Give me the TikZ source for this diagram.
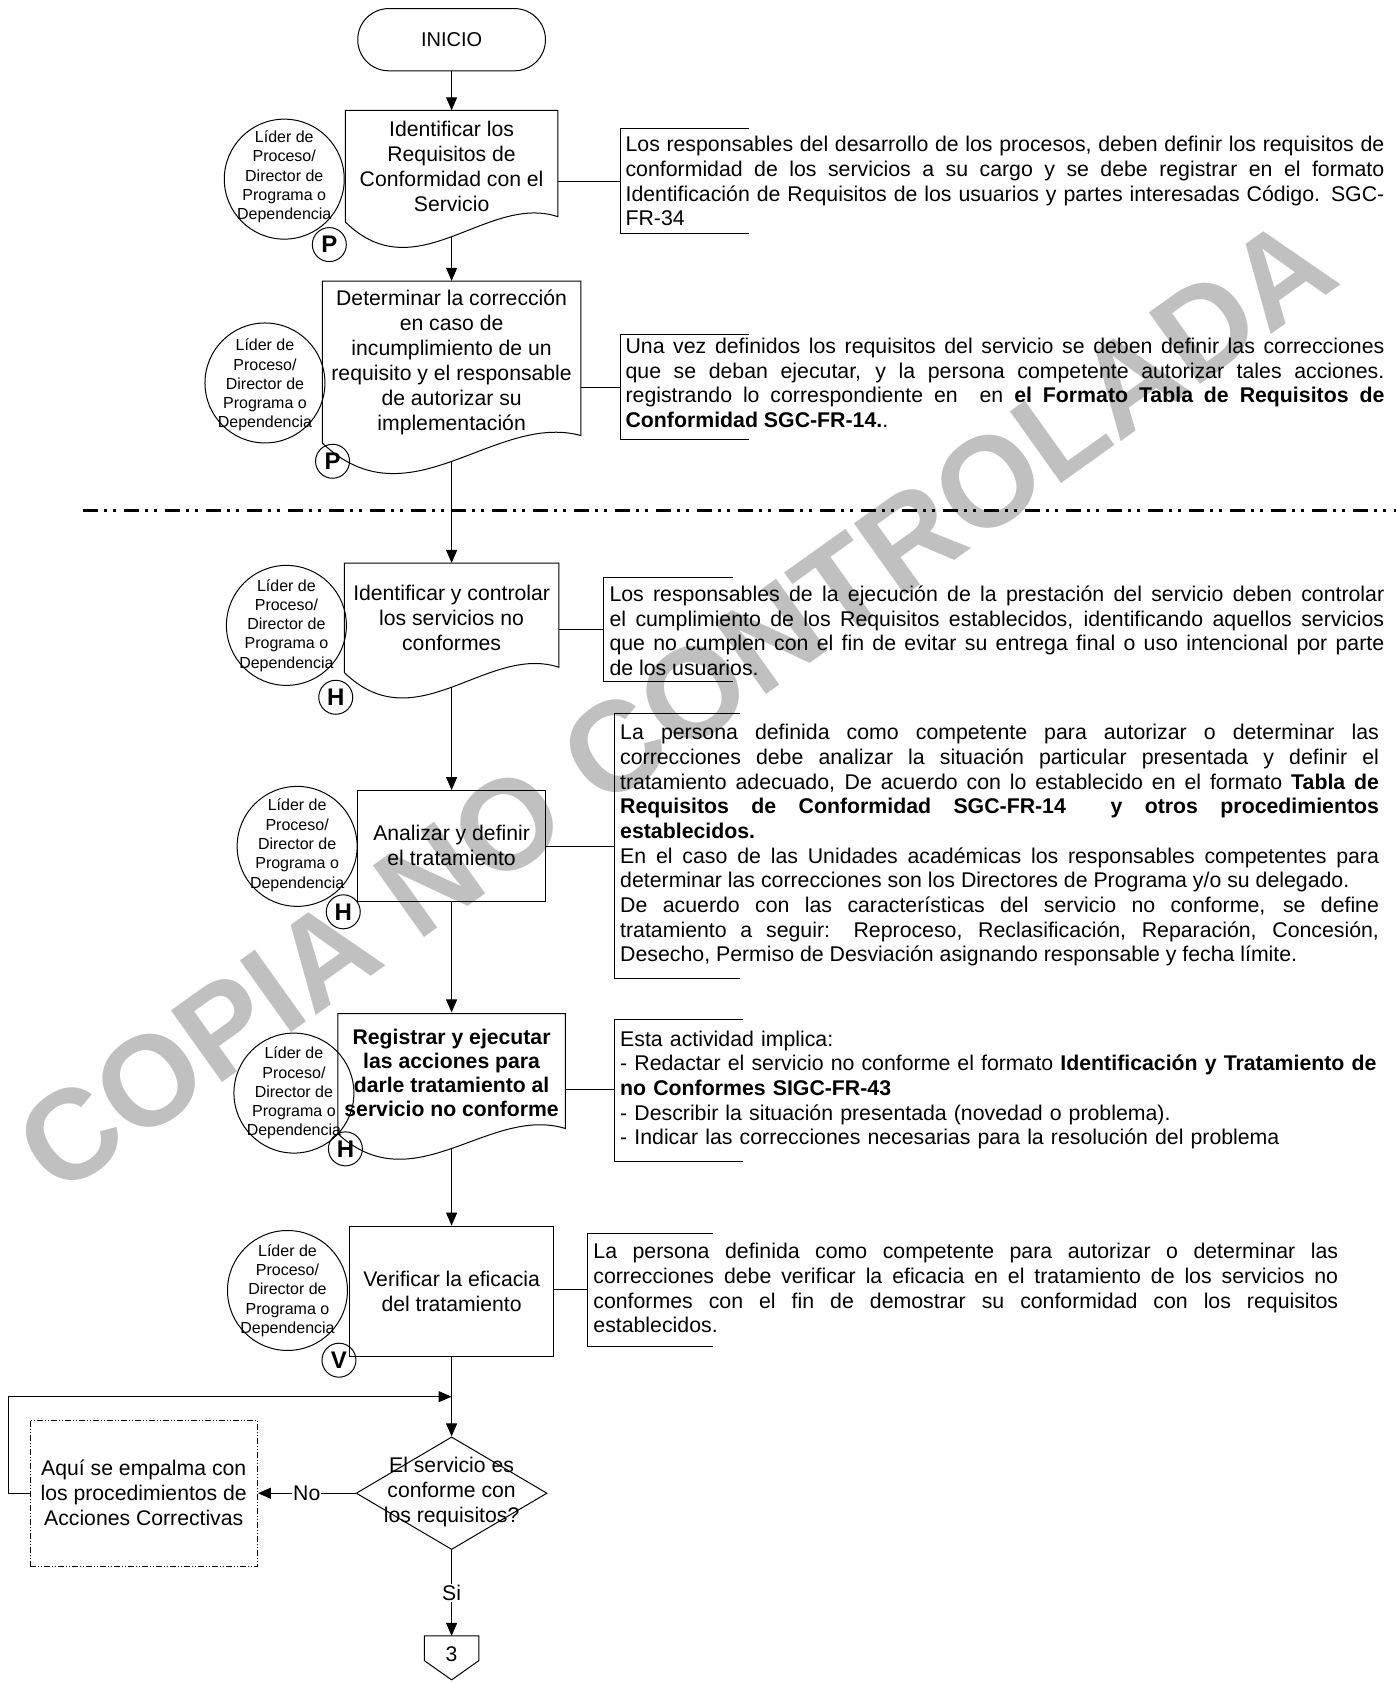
\documentclass[tikz,border=0pt]{standalone}
\usepackage{fontspec}
\setmainfont{Liberation Sans}
\usetikzlibrary{arrows.meta,shapes.geometric,calc}
\setlength\parindent{0pt}
\tolerance=10000
\hbadness=10000
\hyphenpenalty=10000
\exhyphenpenalty=10000
\definecolor{wm}{RGB}{192,192,192}
\def\sk{1.073pt}
\begin{document}
\begin{tikzpicture}[x=1.073pt,y=-1.073pt,
  shp/.style={draw,line width=1pt},
  conn/.style={draw,line width=1pt},
  arr/.style={draw,line width=1pt,-{Triangle[length=13pt,width=11pt]}},
  boxtxt/.style={inner sep=0pt,align=center,font=\fontsize{21.2}{25}\selectfont},
  role/.style={draw,circle,line width=1pt,minimum size=120pt,inner sep=0pt},
  roletxt/.style={inner sep=0pt,align=center,font=\fontsize{16}{19.3}\selectfont},
  letter/.style={draw,circle,line width=1pt,minimum size=34pt,inner sep=0pt,font=\fontsize{24}{24}\selectfont\bfseries},
  desc/.style={anchor=west,inner sep=0pt,font=\fontsize{21.3}{24.7}\selectfont},
]
\useasboundingbox (0,0) rectangle (1301,1568);
% watermark
\node[rotate=35.5,text=wm,inner sep=0pt,font=\fontsize{128}{128}\selectfont\bfseries] (wmk) at (630,657) {COPIA NO CONTROLADA};

% start
\node[draw,line width=1pt,rounded corners=31pt,minimum width=175*\sk,minimum height=58*\sk,font=\fontsize{20}{24}\selectfont] (inicio) at (421,37) {INICIO};

% box 1
\node[boxtxt,minimum width=198*\sk,minimum height=104*\sk] (b1) at (421,155) {Identificar los\\Requisitos de\\Conformidad con el\\Servicio};
\draw[shp] (322,207) -- (322,103) -- (520,103) -- (520,202) .. controls (454,180) and (388,272) .. (322,207);
\coordinate (b1w) at (421,220.5);
\node[role] (c1) at (265,167) {};
\node[roletxt] (c1t) at (265,165) {Líder de\\Proceso/\\Director de\\Programa o\\Dependencia};
\node[letter] (l1) at (307,228) {P};

% box 2
\node[boxtxt,minimum width=241*\sk,minimum height=151*\sk] (b2) at (421,337.5) {Determinar la corrección\\en caso de\\incumplimiento de un\\requisito y el responsable\\de autorizar su\\implementación};
\draw[shp] (300.5,413) -- (300.5,262) -- (541.5,262) -- (541.5,406) .. controls (461,384) and (381,490) .. (300.5,413);
\coordinate (b2w) at (421,431);
\node[role] (c2) at (247,357) {};
\node[roletxt] (c2t) at (247,359) {Líder de\\Proceso/\\Director de\\Programa o\\Dependencia};
\node[letter] (l2) at (310,430) {P};

% divider
\draw[line width=2.5pt,dash pattern=on 15pt off 6pt on 3pt off 6pt on 3pt off 8pt] (77,476) -- (1301,476);

% box 3
\node[boxtxt,minimum width=200*\sk,minimum height=102*\sk] (b3) at (421,576) {Identificar y controlar\\los servicios no\\conformes};
\draw[shp] (321,627) -- (321,525) -- (521,525) -- (521,622) .. controls (454,600) and (388,692) .. (321,627);
\coordinate (b3w) at (421,640.5);
\node[role] (c3) at (267,583) {};
\node[roletxt] (c3t) at (267,583) {Líder de\\Proceso/\\Director de\\Programa o\\Dependencia};
\node[letter] (l3) at (313,650) {H};

% box 4
\node[boxtxt,draw,line width=1pt,minimum width=175*\sk,minimum height=103*\sk] (b4) at (421,788.5) {Analizar y definir\\el tratamiento};
\node[role] (c4) at (277,789) {};
\node[roletxt] (c4t) at (277,788) {Líder de\\Proceso/\\Director de\\Programa o\\Dependencia};
\node[letter] (l4) at (320,850) {H};

% box 5
\node[boxtxt,font=\fontsize{21.2}{24}\selectfont\bfseries,minimum width=212*\sk,minimum height=112*\sk] (b5) at (421,1000) {Registrar y ejecutar\\las acciones para\\darle tratamiento al\\servicio no conforme};
\draw[shp] (315,1057) -- (315,945) -- (527,945) -- (527,1052) .. controls (456,1030) and (386,1122) .. (315,1057);
\coordinate (b5w) at (421,1070.5);
\node[role] (c5) at (274,1019) {};
\node[roletxt] (c5t) at (274,1019) {Líder de\\Proceso/\\Director de\\Programa o\\Dependencia};
\node[letter] (l5) at (322,1071) {H};

% box 6
\node[boxtxt,draw,line width=1pt,minimum width=190*\sk,minimum height=122*\sk] (b6) at (421,1204) {Verificar la eficacia\\del tratamiento};
\node[role] (c6) at (268,1203) {};
\node[roletxt] (c6t) at (268,1203) {Líder de\\Proceso/\\Director de\\Programa o\\Dependencia};
\node[letter] (l6) at (316,1268) {V};

% descriptions
\draw[shp] (698,120) -- (578,120) -- (578,218) -- (698,218);
\coordinate (d1) at (578,169);
\draw[conn] (b1.east |- d1) -- (d1);
\node[desc,text width=759pt,align=justify] (t1) at (583,169) {Los responsables del desarrollo de los procesos, deben definir los requisitos de\linebreak conformidad de los servicios a su cargo y se debe registrar en el formato\linebreak Identificación de Requisitos de los usuarios y partes interesadas Código. SGC-\linebreak FR-34};

\draw[shp] (698,312) -- (578,312) -- (578,410) -- (698,410);
\coordinate (d2) at (578,361);
\draw[conn] (b2.east |- d2) -- (d2);
\node[desc,text width=759pt,align=justify] (t2) at (583,357) {Una vez definidos los requisitos del servicio se deben definir las correcciones\linebreak que se deban ejecutar, y la persona competente autorizar tales acciones.\linebreak registrando lo correspondiente en \ en \textbf{el Formato Tabla de Requisitos de}\linebreak \textbf{Conformidad SGC-FR-14.}.};

\draw[shp] (683,538) -- (563,538) -- (563,635) -- (683,635);
\coordinate (d3) at (563,587);
\draw[conn] (b3.east |- d3) -- (d3);
\node[desc,text width=775pt,align=justify] (t3) at (568,588) {Los responsables de la ejecución de la prestación del servicio deben controlar\linebreak el cumplimiento de los Requisitos establecidos, identificando aquellos servicios\linebreak que no cumplen con el fin de evitar su entrega final o uso intencional por parte\linebreak de los usuarios.};

\draw[shp] (690,665) -- (573,665) -- (573,912) -- (690,912);
\coordinate (d4) at (573,789);
\draw[conn] (b4.east |- d4) -- (d4);
\node[desc,text width=759pt,align=justify] (t4) at (578,788) {La persona definida como competente para autorizar o determinar las\linebreak correcciones debe analizar la situación particular presentada y definir el\linebreak tratamiento adecuado, De acuerdo con lo establecido en el formato \textbf{Tabla de\linebreak Requisitos de Conformidad SGC-FR-14 \ y otros procedimientos\linebreak establecidos.}\par En el caso de las Unidades académicas los responsables competentes para\linebreak determinar las correcciones son los Directores de Programa y/o su delegado.\par De acuerdo con las características del servicio no conforme, se define\linebreak tratamiento a seguir: Reproceso, Reclasificación, Reparación, Concesión,\linebreak Desecho, Permiso de Desviación asignando responsable y fecha límite.};

\draw[shp] (693,950) -- (573,950) -- (573,1083) -- (693,1083);
\coordinate (d5) at (573,1016);
\draw[conn] (b5.east |- d5) -- (d5);
\node[desc,text width=770pt,align=left] (t5) at (578,1016) {Esta actividad implica:\\- Redactar el servicio no conforme el formato \textbf{Identificación y Tratamiento de}\\\textbf{no Conformes SIGC-FR-43}\\- Describir la situación presentada (novedad o problema).\\- Indicar las correcciones necesarias para la resolución del problema};

\draw[shp] (665,1150) -- (548,1150) -- (548,1255) -- (665,1255);
\coordinate (d6) at (548,1202);
\draw[conn] (b6.east |- d6) -- (d6);
\node[desc,text width=745pt,align=justify] (t6) at (553,1201) {La persona definida como competente para autorizar o determinar las\linebreak correcciones debe verificar la eficacia en el tratamiento de los servicios no\linebreak conformes con el fin de demostrar su conformidad con los requisitos\linebreak establecidos.};

% main flow
\draw[arr] (inicio.south) -- (b1.north);
\draw[arr] (b1w) -- (b2.north);
\draw[arr] (b2w) -- (b3.north);
\draw[arr] (b3w) -- (b4.north);
\draw[arr] (b4.south) -- (b5.north);
\draw[arr] (b5w) -- (b6.north);

% decision
\node[shape=diamond,draw,line width=1pt,minimum width=178*\sk,minimum height=105*\sk,inner sep=0pt] (dia) at (421,1392) {};
\node[boxtxt] (diat) at (421,1391) {El servicio es\\conforme con\\los requisitos?};
\draw[arr] (b6.south) -- (dia.north);
\coordinate (jn) at (421,1302);
\node[boxtxt,draw,line width=1pt,dash pattern=on 6pt off 2pt on 1pt off 2pt on 1pt off 2pt,minimum width=212*\sk,minimum height=136*\sk] (aqui) at (134,1392) {Aquí se empalma con\\los procedimientos de\\Acciones Correctivas};
\draw[arr] (dia.west) -- node[fill=white,inner sep=1pt,font=\fontsize{21.2}{25}\selectfont] (nolab) {No} (aqui.east);
\draw[arr] (aqui.west) -- ++(-20,0) |- (jn);
\node[inner sep=0pt,minimum width=51*\sk,minimum height=34*\sk,anchor=north,font=\fontsize{21.2}{25}\selectfont] (off) at (421,1525) {3};
\draw[shp] (395.5,1525) -- (446.5,1525) -- (446.5,1548) -- (421,1566) -- (395.5,1548) -- cycle;
\draw[arr] (dia.south) -- node[fill=white,inner sep=1pt,font=\fontsize{21.2}{25}\selectfont] (silab) {Si} (off.north);
\end{tikzpicture}
\end{document}
